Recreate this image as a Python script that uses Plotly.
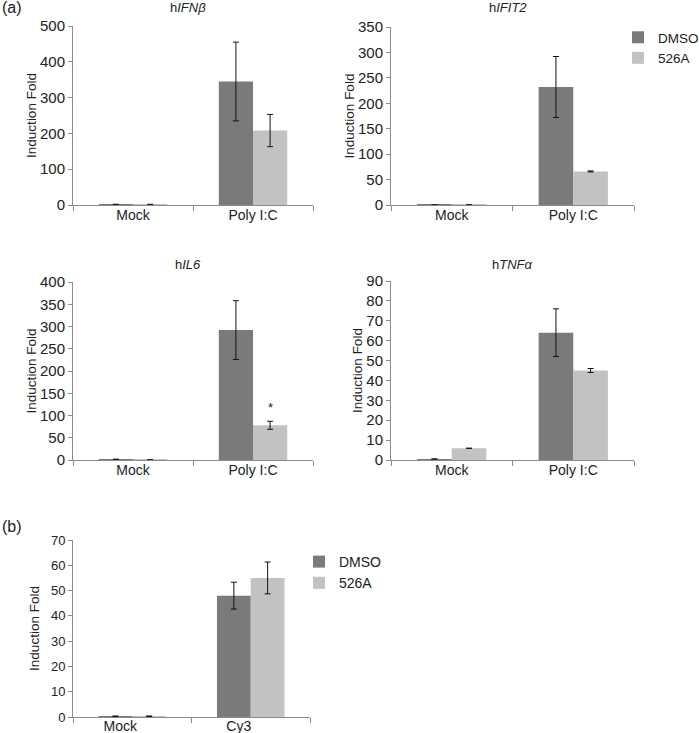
import plotly.graph_objects as go

W, H = 699, 733

categories_a = ["Mock", "Poly I:C"]
categories_b = ["Mock", "Cy3"]
series_names = ["DMSO", "526A"]
series_colors = ["#7a7a7a", "#c2c2c2"]

ifnb_dmso = [1, 345]
ifnb_dmso_err = [1, 110]
ifnb_526a = [1, 208]
ifnb_526a_err = [1, 45]

ifit2_dmso = [0.3, 232]
ifit2_dmso_err = [None, 60]
ifit2_526a = [0.3, 66]
ifit2_526a_err = [None, 1]

il6_dmso = [1, 292]
il6_dmso_err = [1, 66]
il6_526a = [0.3, 78]
il6_526a_err = [None, 9]

tnfa_dmso = [0.5, 64]
tnfa_dmso_err = [None, 12]
tnfa_526a = [5.9, 45]
tnfa_526a_err = [None, 1]

cy3_dmso = [0.3, 48]
cy3_dmso_err = [0.1, 5.3]
cy3_526a = [0.3, 55]
cy3_526a_err = [0.1, 6.3]

panels = [
    # (axis suffix, categories, dmso, dmso_err, 526a, 526a_err, ymax, dtick, title, legend)
    ("", categories_a, ifnb_dmso, ifnb_dmso_err, ifnb_526a, ifnb_526a_err, 500, 100, "h<i>IFNβ</i>", None),
    ("2", categories_a, ifit2_dmso, ifit2_dmso_err, ifit2_526a, ifit2_526a_err, 350, 50, "h<i>IFIT2</i>", "legend"),
    ("3", categories_a, il6_dmso, il6_dmso_err, il6_526a, il6_526a_err, 400, 50, "h<i>IL6</i>", None),
    ("4", categories_a, tnfa_dmso, tnfa_dmso_err, tnfa_526a, tnfa_526a_err, 90, 10, "h<i>TNFα</i>", None),
    ("5", categories_b, cy3_dmso, cy3_dmso_err, cy3_526a, cy3_526a_err, 70, 10, None, "legend2"),
]

# pixel boxes: (x0, x1, ytop, ybottom)
boxes = [
    (73, 313, 26, 205),
    (391, 634, 27, 205),
    (73, 313, 282, 460),
    (391, 634, 281, 460),
    (73, 310, 540, 717),
]

def px(x):
    return x / W

def py(y):
    return 1 - y / H

fig = go.Figure()
FONT = "Liberation Sans, Arial, sans-serif"
TXT = "#222222"
AX = "#8c8c8c"

layout = {}
for (suf, cats, d, de, a, ae, ymax, dt, title, leg), (x0, x1, yt, yb) in zip(panels, boxes):
    xa = "x" + suf
    ya = "y" + suf
    for name, vals, errs, col in [(series_names[0], d, de, series_colors[0]),
                                   (series_names[1], a, ae, series_colors[1])]:
        kw = dict(showlegend=False)
        if leg is not None:
            kw = dict(showlegend=True, legend=leg)
        fig.add_trace(go.Bar(
            x=cats, y=vals, name=name, marker=dict(color=col, line=dict(width=0)),
            error_y=dict(type="data", array=errs, visible=True, color="#111111",
                         thickness=1, width=3),
            xaxis=xa, yaxis=ya, **kw))
    is_b = suf == "5"
    layout["xaxis" + suf] = dict(
        domain=[px(x0), px(x1)], anchor=ya, type="category",
        showline=True, linecolor=AX, linewidth=1,
        ticks="outside", tickson="boundaries", ticklen=5, tickcolor=AX,
        tickfont=dict(family=FONT, size=14, color=TXT),
        ticklabelstandoff=-4 if is_b else -3,
        ticklabelshift=-12 if is_b else 0,
        showgrid=False, zeroline=False, fixedrange=True,
    )
    layout["yaxis" + suf] = dict(
        domain=[py(yb), py(yt)], anchor=xa, range=[0, ymax], dtick=dt,
        showline=True, linecolor=AX, linewidth=1,
        ticks="outside", ticklen=4, tickcolor=AX,
        tickfont=dict(family=FONT, size=13 if is_b else 15, color=TXT),
        showgrid=False, zeroline=False, fixedrange=True,
        title=dict(text="Induction Fold",
                   font=dict(family=FONT, size=13.5, color=TXT),
                   standoff=8 if is_b else 0),
    )

annotations = []
title_pos = [(188, 8), (508, 8), (188, 265), (512, 265)]
for (suf, *_rest), (tx, ty) in zip(panels[:4], title_pos):
    annotations.append(dict(text=_rest[7], x=px(tx), y=py(ty), xref="paper", yref="paper",
                            xanchor="center", yanchor="middle", showarrow=False,
                            font=dict(family=FONT, size=13, color=TXT)))
annotations.append(dict(text="(a)", x=0, y=py(8), xref="paper", yref="paper",
                        xanchor="left", yanchor="middle", showarrow=False,
                        font=dict(family=FONT, size=16, color=TXT)))
annotations.append(dict(text="(b)", x=0, y=py(526), xref="paper", yref="paper",
                        xanchor="left", yanchor="middle", showarrow=False,
                        font=dict(family=FONT, size=16, color=TXT)))
# significance mark on hIL6 526A
annotations.append(dict(text="*", x=categories_a[1], y=il6_526a[1] + il6_526a_err[1],
                        xref="x3", yref="y3", xshift=17, yshift=14, showarrow=False,
                        font=dict(family=FONT, size=13, color=TXT)))

fig.update_layout(
    width=W, height=H, margin=dict(l=0, r=0, t=0, b=0, autoexpand=False),
    paper_bgcolor="white", plot_bgcolor="white",
    barmode="group", bargap=0.43, bargroupgap=0,
    font=dict(family=FONT, color=TXT),
    annotations=annotations,
    legend=dict(x=px(618), y=py(22), xanchor="left", yanchor="top",
                font=dict(family=FONT, size=13.5, color=TXT), itemwidth=30,
                bgcolor="rgba(0,0,0,0)", tracegroupgap=0),
    legend2=dict(x=px(299), y=py(546), xanchor="left", yanchor="top",
                 font=dict(family=FONT, size=14, color=TXT), itemwidth=30,
                 bgcolor="rgba(0,0,0,0)", tracegroupgap=0),
    **layout,
)

fig.write_html("out.html", config={"displayModeBar": False},
               post_script="document.body.style.margin='0';")
